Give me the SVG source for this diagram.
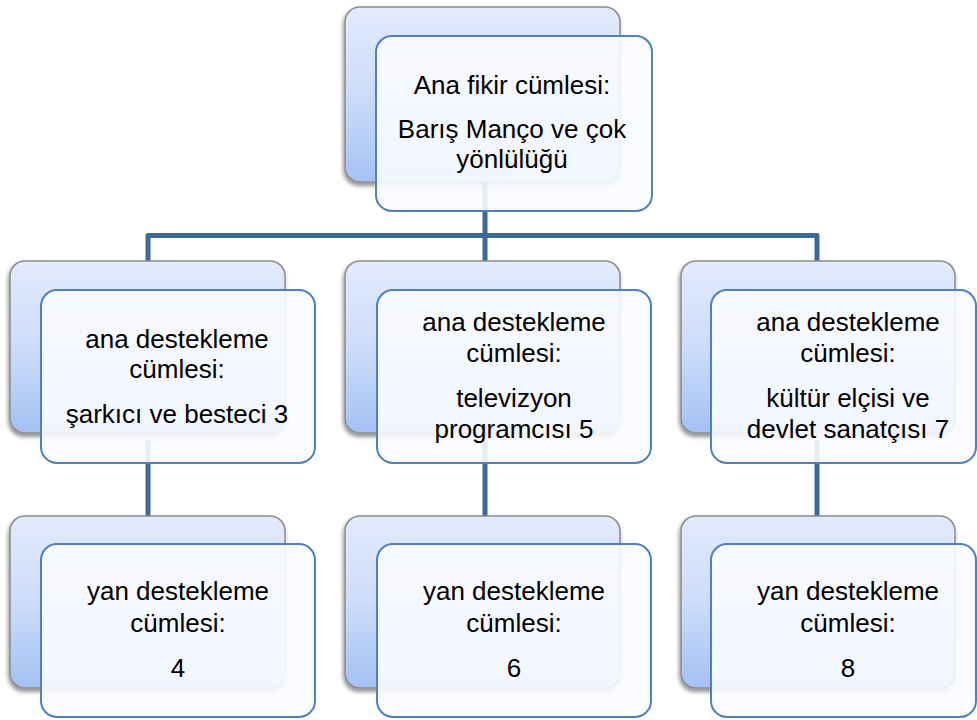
<svg xmlns="http://www.w3.org/2000/svg" width="977" height="720" viewBox="0 0 977 720">
<defs>
<linearGradient id="backGrad" x1="0" y1="0" x2="0" y2="1">
<stop offset="0" stop-color="#E3EBFC"/>
<stop offset="0.5" stop-color="#CCDCFA"/>
<stop offset="1" stop-color="#A4C1F4"/>
</linearGradient>
<filter id="shadow" x="-10%" y="-10%" width="120%" height="125%">
<feDropShadow dx="-1" dy="3" stdDeviation="2" flood-color="#000" flood-opacity="0.45"/>
</filter>
</defs>
<style>
.back{fill:url(#backGrad);stroke:#8C8C8C;stroke-width:1.5;filter:url(#shadow)}
.front{fill:#FAFBFE;fill-opacity:0.9;stroke:#4F81BD;stroke-width:2}
.conn{fill:none;stroke:#3F6797;stroke-width:5;stroke-linejoin:round}
text{font-family:"Liberation Sans",Arial,sans-serif;font-size:26px;fill:#000;text-anchor:middle}
</style>
<rect width="977" height="720" fill="#FFFFFF"/>
<g id="connectors">
<path class="conn" d="M485,180 V235.5 M148,262 V235.5 H817 V262 M485,235.5 V262"/>
<path class="conn" d="M148,440 V516 M485,440 V516 M817,440 V516"/>
</g>
<g id="node-top">
<rect class="back" x="345" y="7" width="275" height="175" rx="15"/>
<rect class="front" x="376" y="36" width="276" height="175" rx="16"/>
<text x="512" y="94">Ana fikir cümlesi:</text>
<text x="512" y="138">Barış Manço ve çok</text>
<text x="512" y="168">yönlülüğü</text>
</g>
<g id="node-ana-1">
<rect class="back" x="10" y="261" width="275" height="172" rx="15"/>
<rect class="front" x="41" y="290" width="274" height="173" rx="16"/>
<text x="177" y="348">ana destekleme</text>
<text x="177" y="378">cümlesi:</text>
<text x="177" y="423">şarkıcı ve besteci 3</text>
</g>
<g id="node-ana-2">
<rect class="back" x="345" y="261" width="275" height="172" rx="15"/>
<rect class="front" x="377" y="290" width="274" height="173" rx="16"/>
<text x="514" y="331">ana destekleme</text>
<text x="514" y="362">cümlesi:</text>
<text x="514" y="407">televizyon</text>
<text x="514" y="438">programcısı 5</text>
</g>
<g id="node-ana-3">
<rect class="back" x="681" y="261" width="274" height="172" rx="15"/>
<rect class="front" x="711" y="290" width="265" height="173" rx="16"/>
<text x="848" y="331">ana destekleme</text>
<text x="848" y="362">cümlesi:</text>
<text x="848" y="407">kültür elçisi ve</text>
<text x="848" y="438">devlet sanatçısı 7</text>
</g>
<g id="node-yan-1">
<rect class="back" x="10" y="516" width="275" height="172" rx="15"/>
<rect class="front" x="41" y="544" width="274" height="173" rx="16"/>
<text x="178" y="600">yan destekleme</text>
<text x="178" y="632">cümlesi:</text>
<text x="178" y="677">4</text>
</g>
<g id="node-yan-2">
<rect class="back" x="345" y="516" width="275" height="172" rx="15"/>
<rect class="front" x="377" y="544" width="274" height="173" rx="16"/>
<text x="514" y="600">yan destekleme</text>
<text x="514" y="632">cümlesi:</text>
<text x="514" y="677">6</text>
</g>
<g id="node-yan-3">
<rect class="back" x="681" y="516" width="274" height="172" rx="15"/>
<rect class="front" x="711" y="544" width="265" height="173" rx="16"/>
<text x="848" y="600">yan destekleme</text>
<text x="848" y="632">cümlesi:</text>
<text x="848" y="677">8</text>
</g>
</svg>
